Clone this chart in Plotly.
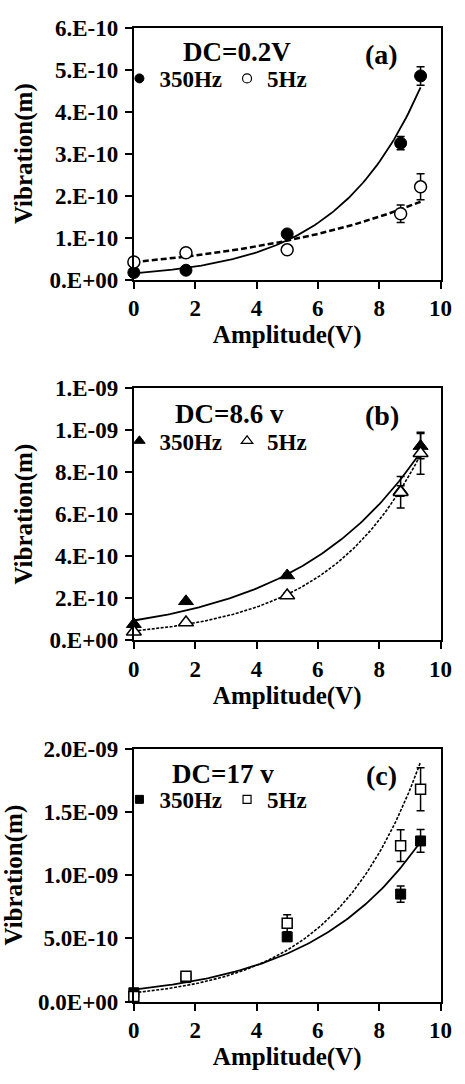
import numpy as np
import plotly.graph_objects as go
from plotly.subplots import make_subplots

# ---------------- data ----------------
amplitude = [0.0, 1.7, 5.0, 8.7, 9.35]

a_350 = [1.7e-11, 2.25e-11, 1.09e-10, 3.25e-10, 4.85e-10]
a_350_err = [0.4e-11, 0.4e-11, 0.6e-11, 1.6e-11, 2.2e-11]
a_5 = [4.2e-11, 6.4e-11, 7.1e-11, 1.57e-10, 2.21e-10]
a_5_err = [0.3e-11, 0.3e-11, 0.5e-11, 2.1e-11, 3.1e-11]

b_350 = [7.6e-11, 1.85e-10, 3.08e-10, 7.1e-10, 9.24e-10]
b_350_err = [0.5e-11, 0.5e-11, 1.0e-11, 2.5e-11, 6.0e-11]
b_5 = [4.0e-11, 8.4e-11, 2.13e-10, 7.04e-10, 8.9e-10]
b_5_err = [0.5e-11, 0.5e-11, 1.0e-11, 7.5e-11, 10.0e-11]

c_350 = [7.0e-11, 1.9e-10, 5.12e-10, 8.5e-10, 1.27e-9]
c_350_err = [1.0e-11, 1.0e-11, 3.0e-11, 6.4e-11, 9.0e-11]
c_5 = [4.0e-11, 2.0e-10, 6.2e-10, 1.233e-9, 1.678e-9]
c_5_err = [1.0e-11, 1.0e-11, 6.7e-11, 1.25e-10, 1.7e-10]

x_ticks = [0, 2, 4, 6, 8, 10]
a_yticks = [0, 1e-10, 2e-10, 3e-10, 4e-10, 5e-10, 6e-10]
a_ylabels = ["0.E+00", "1.E-10", "2.E-10", "3.E-10", "4.E-10", "5.E-10", "6.E-10"]
b_yticks = [0, 2e-10, 4e-10, 6e-10, 8e-10, 1.0e-9, 1.2e-9]
b_ylabels = ["0.E+00", "2.E-10", "4.E-10", "6.E-10", "8.E-10", "1.E-09", "1.E-09"]
c_yticks = [0, 5e-10, 1.0e-9, 1.5e-9, 2.0e-9]
c_ylabels = ["0.0E+00", "5.0E-10", "1.0E-09", "1.5E-09", "2.0E-09"]

panel_titles = ["DC=0.2V", "DC=8.6 v", "DC=17 v"]
panel_tags = ["(a)", "(b)", "(c)"]
series_names = ["350Hz", "5Hz"]

# ---------------- styling ----------------
FONT = "Liberation Serif, Times New Roman, serif"
W, H = 465, 1084


def px_x(p):
    return p / W


def px_y(p):
    return 1 - p / H


def exp_fit(x, y):
    """Exponential trendline y = A*exp(B*x), least squares on ln(y)."""
    x = np.asarray(x, float)
    y = np.asarray(y, float)
    B, lnA = np.polyfit(x, np.log(y), 1)
    xs = np.linspace(x.min(), x.max(), 120)
    return xs, np.exp(lnA) * np.exp(B * xs)


fig = make_subplots(rows=3, cols=1)

panels = [
    dict(s350=a_350, e350=a_350_err, s5=a_5, e5=a_5_err, sym="circle",
         dash="6px,3px", dw=2.5, yt=a_yticks, yl=a_ylabels, yr=[0, 6e-10], msize=12, lsize=9),
    dict(s350=b_350, e350=b_350_err, s5=b_5, e5=b_5_err, sym="triangle-up",
         dash="3px,1.5px", dw=1.6, yt=b_yticks, yl=b_ylabels, yr=[0, 1.2e-9], msize=13, lsize=10),
    dict(s350=c_350, e350=c_350_err, s5=c_5, e5=c_5_err, sym="square",
         dash="3px,1.5px", dw=1.6, yt=c_yticks, yl=c_ylabels, yr=[0, 2e-9], msize=10, lsize=8),
]

# pixel layout of the three plot areas (top, bottom)
rows_px = [(16, 274), (385, 643), (754, 1013)]
x_dom = [px_x(133), px_x(452)]
legend_rows_px = [68, 439, 806]
title_rows_px = [41, 411, 780]
title_x_px = [240, 233, 226]

for i, p in enumerate(panels):
    r = i + 1
    leg = "legend" if i == 0 else f"legend{i + 1}"
    # fit lines
    for key, dash, lw in (("s350", "solid", 1.8), ("s5", p["dash"], p["dw"])):
        xs, ys = exp_fit(amplitude, p[key])
        fig.add_trace(go.Scatter(x=xs, y=ys, mode="lines", showlegend=False, hoverinfo="skip",
                                 line=dict(color="black", width=lw, dash=dash)), row=r, col=1)
    # data points
    fig.add_trace(go.Scatter(
        x=amplitude, y=p["s350"], mode="markers", name=series_names[0], showlegend=False,
        cliponaxis=False,
        marker=dict(symbol=p["sym"], size=p["msize"], color="black", line=dict(color="black", width=1)),
        error_y=dict(type="data", array=p["e350"], color="black", thickness=1.5, width=4)), row=r, col=1)
    fig.add_trace(go.Scatter(
        x=amplitude, y=p["s5"], mode="markers", name=series_names[1], showlegend=False,
        cliponaxis=False,
        marker=dict(symbol=p["sym"], size=p["msize"], color="white", line=dict(color="black", width=1.5)),
        error_y=dict(type="data", array=p["e5"], color="black", thickness=1.5, width=4)), row=r, col=1)
    # legend entries (smaller symbols, as in the reference key)
    fig.add_trace(go.Scatter(x=[None], y=[None], mode="markers", name=series_names[0], legend=leg,
                             marker=dict(symbol=p["sym"], size=p["lsize"], color="black",
                                         line=dict(color="black", width=1))), row=r, col=1)
    fig.add_trace(go.Scatter(x=[None], y=[None], mode="markers", name=series_names[1], legend=leg,
                             marker=dict(symbol=p["sym"], size=p["lsize"], color="white",
                                         line=dict(color="black", width=1.2))), row=r, col=1)

    top, bot = rows_px[i]
    axis_common = dict(showline=True, linecolor="black", linewidth=2, mirror=True,
                       ticks="outside", ticklen=7, tickwidth=2, tickcolor="black",
                       showgrid=False, zeroline=False,
                       tickfont=dict(family=FONT, size=23, color="black", weight="bold"))
    fig.update_xaxes(domain=x_dom, range=[0, 10], tickvals=x_ticks,
                     title=dict(text="Amplitude(V)", standoff=0,
                                font=dict(family=FONT, size=25, color="black", weight="bold")),
                     **axis_common, row=r, col=1)
    fig.update_yaxes(domain=[px_y(bot), px_y(top)], range=p["yr"], tickvals=p["yt"], ticktext=p["yl"],
                     ticklabelstandoff=2,
                     title=dict(text="Vibration(m)", standoff=10,
                                font=dict(family=FONT, size=25, color="black", weight="bold")),
                     **axis_common, row=r, col=1)

    fig.add_annotation(xref="paper", yref="paper", x=px_x(title_x_px[i]), y=px_y(title_rows_px[i]),
                       text=panel_titles[i], showarrow=False, xanchor="center", yanchor="middle",
                       font=dict(family=FONT, size=27, color="black", weight="bold"))
    fig.add_annotation(xref="paper", yref="paper", x=px_x(391), y=px_y(title_rows_px[i] + 2),
                       text=panel_tags[i], showarrow=False, xanchor="center", yanchor="middle",
                       font=dict(family=FONT, size=28, color="black", weight="bold"))

    fig.update_layout({leg: dict(orientation="h", x=px_x(118), y=px_y(legend_rows_px[i]),
                                 xanchor="left", yanchor="middle", bgcolor="rgba(0,0,0,0)",
                                 itemsizing="trace", tracegroupgap=0,
                                 font=dict(family=FONT, size=23, color="black", weight="bold"))})

fig.update_layout(width=W, height=H, margin=dict(l=0, r=0, t=0, b=0),
                  paper_bgcolor="white", plot_bgcolor="white")

fig.write_html("out.html", config={"displayModeBar": False},
               post_script="document.body.style.margin='0';")
